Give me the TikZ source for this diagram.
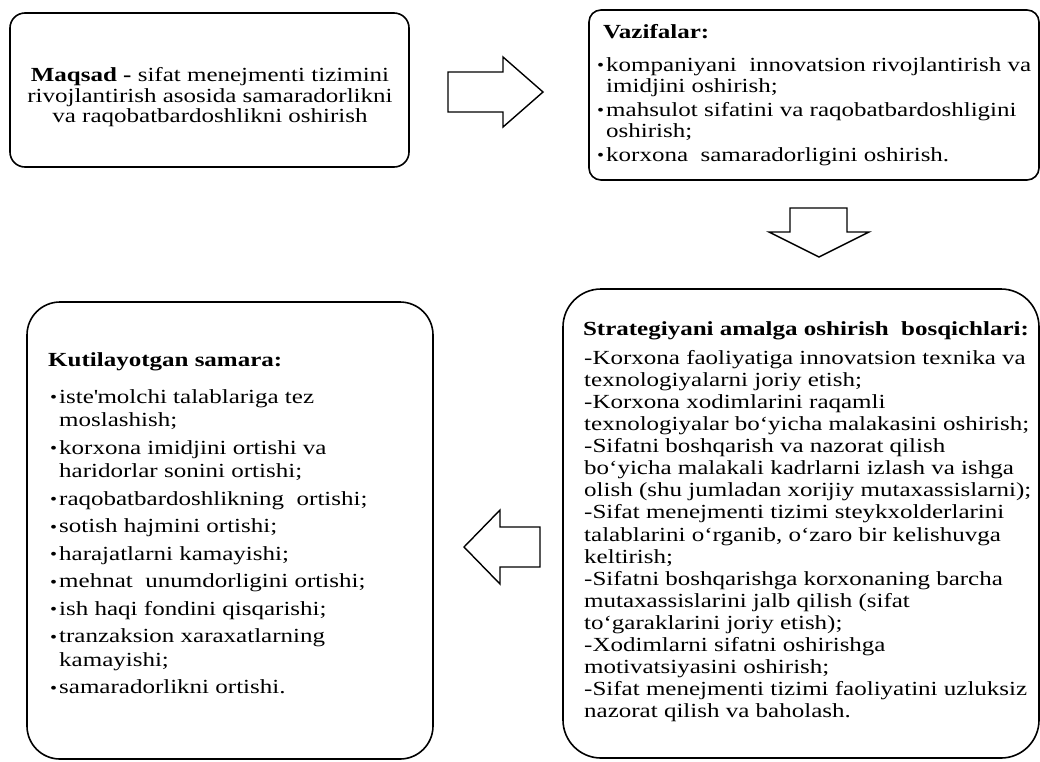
\documentclass[tikz,border=0pt]{standalone}
\usepackage{fontspec}
\setmainfont{Liberation Serif}[FakeStretch=1.25]
\newcommand{\bul}{\makebox[9pt][l]{\fontsize{16}{16}\selectfont\raisebox{0.5pt}{\textbullet}}}
\newcommand{\ind}{\hspace*{9pt}}
\newcommand{\fst}{\rule{0pt}{14pt}}
\tikzset{
  box/.style={draw, line width=1.6pt, inner sep=0pt},
  blockarrow/.style={draw, line width=1.4pt, line join=miter, fill=white},
  txt/.style={inner sep=0pt, align=left, font=\fontsize{20}{#1}\selectfont},
  txt/.default=22
}

\begin{document}
\begin{tikzpicture}[x=1pt,y=-1pt]
\useasboundingbox (0,0) rectangle (1040,761);

\node[box, rounded corners=15pt, minimum width=399pt, minimum height=154pt] (goal) at (209.5,90) {};
\node[box, rounded corners=12pt, minimum width=450pt, minimum height=170pt] (tasks) at (814,95) {};
\node[box, rounded corners=38pt, minimum width=476pt, minimum height=469pt] (stages) at (801,523.5) {};
\node[box, rounded corners=33pt, minimum width=406pt, minimum height=457pt] (effect) at (230,530.5) {};

\node[txt=20.5, align=center] (goaltext) at (210,97.5)
  {\textbf{Maqsad -} sifat menejmenti tizimini\\rivojlantirish asosida samaradorlikni\\va raqobatbardoshlikni oshirish};

\node[txt, anchor=base west] (taskshead) at (603,38) {\textbf{Vazifalar:}};
\node[txt=21, anchor=north west] (taskslist) at (597,57)
  {\fst\bul kompaniyani\ \ innovatsion rivojlantirish va\\\ind imidjini oshirish;\\[3pt]
   \bul mahsulot sifatini va raqobatbardoshligini\\\ind oshirish;\\[3pt]
   \bul korxona\ \ samaradorligini oshirish.};

\node[txt, anchor=base] (stageshead) at (806,335) {\textbf{Strategiyani amalga oshirish\ \ bosqichlari:}};
\node[txt=22.1, anchor=north west] (stageslist) at (584,350)
  {\fst-Korxona faoliyatiga innovatsion texnika va\\
   texnologiyalarni joriy etish;\\
   -Korxona xodimlarini raqamli\\
   texnologiyalar bo‘yicha malakasini oshirish;\\
   -Sifatni boshqarish va nazorat qilish\\
   bo‘yicha malakali kadrlarni izlash va ishga\\
   olish (shu jumladan xorijiy mutaxassislarni);\\
   -Sifat menejmenti tizimi steykxolderlarini\\
   talablarini o‘rganib, o‘zaro bir kelishuvga\\
   keltirish;\\
   -Sifatni boshqarishga korxonaning barcha\\
   mutaxassislarini jalb qilish (sifat\\
   to‘garaklarini joriy etish);\\
   -Xodimlarni sifatni oshirishga\\
   motivatsiyasini oshirish;\\
   -Sifat menejmenti tizimi faoliyatini uzluksiz\\
   nazorat qilish va baholash.};

\node[txt, anchor=base west] (effecthead) at (48,366) {\textbf{Kutilayotgan samara:}};
\node[txt=23.5, anchor=north west] (effectlist) at (50,389)
  {\fst\bul iste\textquotesingle molchi talablariga tez\\\ind moslashish;\\[4pt]
   \bul korxona imidjini ortishi va\\\ind haridorlar sonini ortishi;\\[4pt]
   \bul raqobatbardoshlikning\ \ ortishi;\\[4pt]
   \bul sotish hajmini ortishi;\\[4pt]
   \bul harajatlarni kamayishi;\\[4pt]
   \bul mehnat\ \ unumdorligini ortishi;\\[4pt]
   \bul ish haqi fondini qisqarishi;\\[4pt]
   \bul tranzaksion xaraxatlarning\\\ind kamayishi;\\[4pt]
   \bul samaradorlikni ortishi.};

\draw[blockarrow] (448,72) -- (503,72) -- (503,57) -- (543,92) -- (503,127) -- (503,112) -- (448,112) -- cycle;
\draw[blockarrow] (790,208) -- (847,208) -- (847,232) -- (869,232) -- (819,257) -- (769,232) -- (790,232) -- cycle;
\draw[blockarrow] (540,527) -- (500,527) -- (500,510) -- (464,547) -- (500,584) -- (500,567) -- (540,567) -- cycle;
\end{tikzpicture}
\end{document}
